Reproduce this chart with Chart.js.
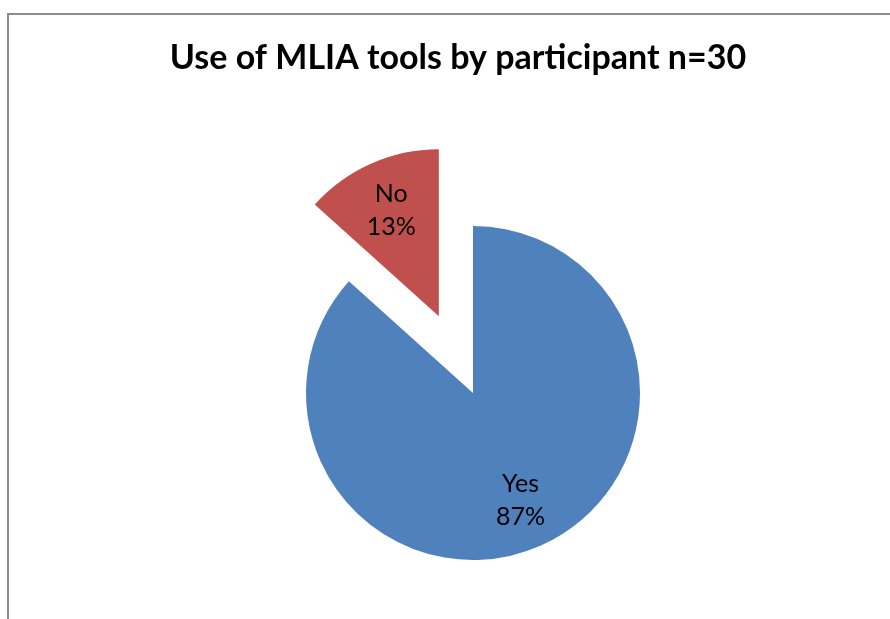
<!DOCTYPE html>
<html>
<head>
<meta charset="utf-8">
<title>Use of MLIA tools by participant</title>
<script src="https://cdn.jsdelivr.net/npm/chart.js@4"></script>
<style>
  html, body { margin: 0; padding: 0; background: #fff; }
  #wrap { position: relative; width: 890px; height: 619px; }
</style>
</head>
<body>
<div id="wrap"><canvas id="pieCanvas" width="890" height="619"></canvas></div>
<script>
(function() {
  'use strict';

  // data
  const labels = ['Yes', 'No'];
  const counts = [26, 4];
  const percentLabels = ['87%', '13%'];
  const colors = ['#4F81BD', '#C0504D'];
  const chartTitle = 'Use of MLIA tools by participant n=30';

  // exploded slice distance (px) per slice
  const explode = [0, 84];

  // frame + title drawn on the canvas
  const framePlugin = {
    id: 'frame',
    beforeDraw(chart) {
      const ctx = chart.ctx;
      ctx.save();
      ctx.strokeStyle = '#8c8c8c';
      ctx.lineWidth = 2;
      ctx.strokeRect(8, 14, 1000, 1000);
      ctx.fillStyle = '#000';
      ctx.font = 'bold 34px Lato, "Open Sans", sans-serif';
      ctx.textAlign = 'center';
      ctx.textBaseline = 'alphabetic';
      ctx.fillText(chartTitle, 458, 69);
      ctx.restore();
    }
  };

  // move exploded slices out along their bisector
  const explodePlugin = {
    id: 'explode',
    afterDatasetsUpdate(chart) {
      const meta = chart.getDatasetMeta(0);
      meta.data.forEach(function(arc, i) {
        const d = explode[i] || 0;
        if (!d) return;
        const mid = (arc.startAngle + arc.endAngle) / 2;
        arc.x += Math.cos(mid) * d;
        arc.y += Math.sin(mid) * d;
      });
    }
  };

  // slice labels inside the pie
  const labelPlugin = {
    id: 'sliceLabels',
    afterDatasetsDraw(chart) {
      const ctx = chart.ctx;
      const meta = chart.getDatasetMeta(0);
      ctx.save();
      ctx.fillStyle = '#000';
      ctx.font = '25px Lato, "Open Sans", sans-serif';
      ctx.textAlign = 'center';
      ctx.textBaseline = 'middle';
      meta.data.forEach(function(arc, i) {
        const mid = (arc.startAngle + arc.endAngle) / 2;
        const r = arc.outerRadius * 0.7;
        const x = arc.x + Math.cos(mid) * r;
        const y = arc.y + Math.sin(mid) * r;
        ctx.fillText(labels[i], x, y - 16);
        ctx.fillText(percentLabels[i], x, y + 17);
      });
      ctx.restore();
    }
  };

  const ctx = document.getElementById('pieCanvas');
  new Chart(ctx, {
    type: 'pie',
    data: {
      labels: labels,
      datasets: [{
        data: counts,
        backgroundColor: colors,
        borderWidth: 0
      }]
    },
    options: {
      responsive: false,
      animation: false,
      events: [],
      radius: 167,
      layout: { padding: { left: 56, right: 0, top: 167, bottom: 0 } },
      plugins: {
        legend: { display: false },
        title: { display: false },
        tooltip: { enabled: false }
      }
    },
    plugins: [framePlugin, explodePlugin, labelPlugin]
  });
})();
</script>
</body>
</html>
